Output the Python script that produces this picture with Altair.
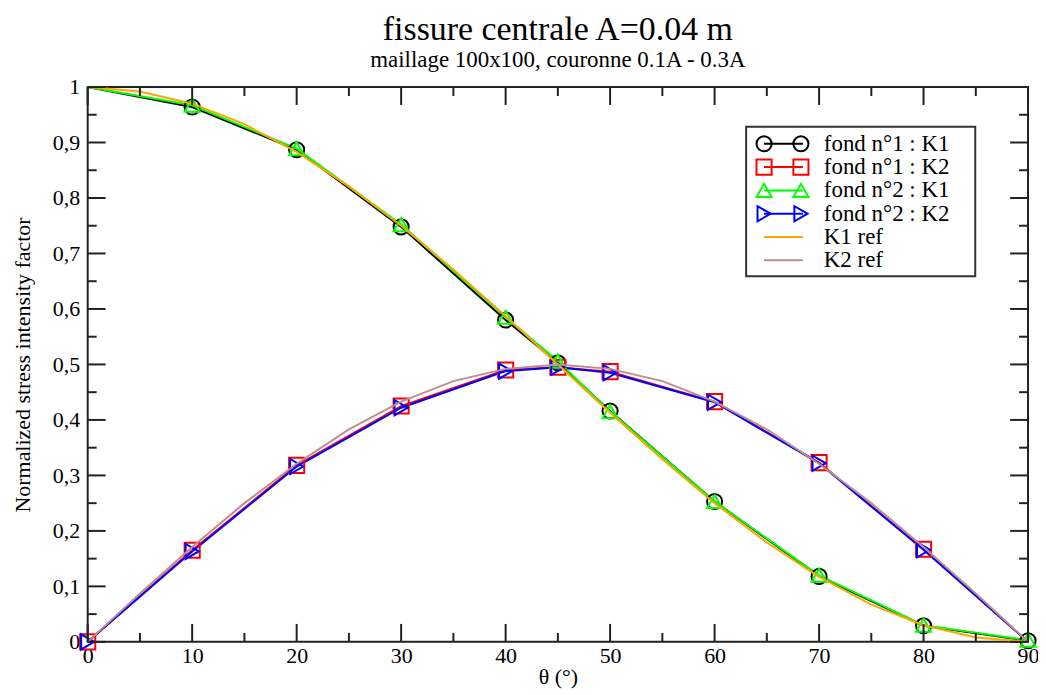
import altair as alt
import pandas as pd

# ---------------- data ----------------
theta_pts = [0, 10, 20, 30, 40, 45, 50, 60, 70, 80, 90]
k1_fond1 = [1.0, 0.964, 0.887, 0.748, 0.580, 0.503, 0.416, 0.253, 0.118, 0.029, 0.002]
k2_fond1 = [0.0, 0.165, 0.318, 0.425, 0.490, 0.495, 0.487, 0.433, 0.323, 0.167, 0.0]
k1_fond2 = [1.0, 0.967, 0.889, 0.752, 0.585, 0.506, 0.415, 0.253, 0.120, 0.030, 0.003]
k2_fond2 = [0.0, 0.163, 0.316, 0.422, 0.488, 0.495, 0.485, 0.432, 0.322, 0.166, 0.0]

theta_ref = [0, 5, 10, 15, 20, 25, 30, 35, 40, 45, 50, 55, 60, 65, 70, 75, 80, 85, 90]
k1_ref = [1.0, 0.992, 0.970, 0.933, 0.883, 0.821, 0.750, 0.671, 0.587, 0.500,
          0.413, 0.329, 0.250, 0.179, 0.117, 0.067, 0.030, 0.008, 0.0]
k2_ref = [0.0, 0.087, 0.171, 0.250, 0.321, 0.383, 0.433, 0.470, 0.492, 0.500,
          0.492, 0.470, 0.433, 0.383, 0.321, 0.250, 0.171, 0.087, 0.0]

series_names = ["fond n°1 : K1", "fond n°1 : K2", "fond n°2 : K1", "fond n°2 : K2", "K1 ref", "K2 ref"]
series_colors = ["#000000", "#ff0000", "#00ff00", "#0000ff", "#ffa500", "#bc8f8f"]
marker_series = series_names[:4]
marker_shapes = ["circle", "square", "triangle-up", "triangle-right"]

x_major = [0, 10, 20, 30, 40, 50, 60, 70, 80, 90]
x_minor = [5, 15, 25, 35, 45, 55, 65, 75, 85]
y_major = [0, 0.1, 0.2, 0.3, 0.4, 0.5, 0.6, 0.7, 0.8, 0.9, 1.0]
y_minor = [0.05, 0.15, 0.25, 0.35, 0.45, 0.55, 0.65, 0.75, 0.85, 0.95]

# ---------------- tables ----------------
rows = []
for name, vals in zip(series_names[:4], [k1_fond1, k2_fond1, k1_fond2, k2_fond2]):
    for t, v in zip(theta_pts, vals):
        rows.append({"theta": t, "value": v, "series": name})
meas = pd.DataFrame(rows)
# markers: K1 sets have no marker at 0, K2 sets none at 90
meas["mark"] = [not ((("K1" in s) and t == 0) or (("K2" in s) and t == 90))
                for s, t in zip(meas["series"], meas["theta"])]

rrows = []
for name, vals in zip(series_names[4:], [k1_ref, k2_ref]):
    for t, v in zip(theta_ref, vals):
        rrows.append({"theta": t, "value": v, "series": name})
ref = pd.DataFrame(rrows)

W, H = 944, 557
SERIF = "Liberation Serif"
FRAME = "#222222"

xs = alt.Scale(domain=[0, 90], nice=False, zero=False)
ys = alt.Scale(domain=[0, 1], nice=False, zero=False)
cs = alt.Scale(domain=series_names, range=series_colors)
ss = alt.Scale(domain=marker_series, range=marker_shapes)

common_axis = dict(ticks=False, domain=False, grid=False, labelFlush=False,
                   labelFont=SERIF, labelFontSize=22, labelColor="black",
                   titleFont=SERIF, titleFontSize=22, titleFontWeight="normal", titleColor="black")
x_axis = alt.Axis(values=x_major, format="d", labelPadding=4, titlePadding=0, **common_axis)
y_axis = alt.Axis(values=y_major, format=".1~f", labelExpr="replace(datum.label, '.', ',')",
                  labelPadding=8, titlePadding=18, **common_axis)
XT = "θ (°)"
YT = "Normalized stress intensity factor"

def X():
    return alt.X("theta:Q", scale=xs, axis=x_axis, title=XT)

def Y():
    return alt.Y("value:Q", scale=ys, axis=y_axis, title=YT)

lines = alt.Chart(meas).mark_line(strokeWidth=2).encode(
    x=X(), y=Y(),
    color=alt.Color("series:N", scale=cs, legend=None),
    detail="series:N",
)
points = alt.Chart(meas).transform_filter("datum.mark").mark_point(
    size=230, strokeWidth=2, filled=False, opacity=1
).encode(
    x=X(), y=Y(),
    color=alt.Color("series:N", scale=cs, legend=None),
    shape=alt.Shape("series:N", scale=ss, legend=None),
)
ref_lines = alt.Chart(ref).mark_line(strokeWidth=2).encode(
    x=X(), y=Y(),
    color=alt.Color("series:N", scale=cs, legend=None),
    detail="series:N",
)

# inward ticks
def xticks(vals, length):
    d = pd.DataFrame({"theta": vals})
    base = alt.Chart(d).mark_rule(color=FRAME, strokeWidth=2)
    bot = base.encode(x=X(), y=alt.value(H), y2=alt.value(H - length))
    top = base.encode(x=X(), y=alt.value(0), y2=alt.value(length))
    return [bot, top]

def yticks(vals, length):
    d = pd.DataFrame({"value": vals})
    base = alt.Chart(d).mark_rule(color=FRAME, strokeWidth=2)
    left = base.encode(y=Y(), x=alt.value(0), x2=alt.value(length))
    right = base.encode(y=Y(), x=alt.value(W), x2=alt.value(W - length))
    return [left, right]

tick_layers = xticks(x_major, 18) + xticks(x_minor, 9) + yticks(y_major, 18) + yticks(y_minor, 9)

# legend (drawn as a boxed key, entries stacked from top)
LX0, LX1, LY0, LY1 = 661, 891, 40, 190
ROW0, ROWSTEP = 57, 23.4
one = alt.Data(values=[{"a": 1}])
leg_layers = [
    alt.Chart(one).mark_rect(fill="white", stroke="#333333", strokeWidth=2)
    .encode(x=alt.value(LX0), x2=alt.value(LX1), y=alt.value(LY0), y2=alt.value(LY1))
]
for i, (name, col) in enumerate(zip(series_names, series_colors)):
    yy = ROW0 + i * ROWSTEP
    d = alt.Data(values=[{"series": name}])
    leg_layers.append(
        alt.Chart(d).mark_rule(strokeWidth=2, color=col)
        .encode(x=alt.value(679), x2=alt.value(718), y=alt.value(yy))
    )
    if name in marker_series:
        shp = marker_shapes[marker_series.index(name)]
        for px in [679, 716]:
            leg_layers.append(
                alt.Chart(d).mark_point(size=230, strokeWidth=2, filled=False, opacity=1,
                                        shape=shp, color=col)
                .encode(x=alt.value(px), y=alt.value(yy))
            )
    leg_layers.append(
        alt.Chart(d).mark_text(align="left", baseline="middle", font=SERIF, fontSize=23,
                               color="black")
        .encode(x=alt.value(739), y=alt.value(yy), text="series:N")
    )

chart = alt.layer(
    lines, points, ref_lines, *tick_layers, *leg_layers
).properties(
    width=W, height=H, background="white",
    title=alt.TitleParams(
        text="fissure centrale A=0.04 m",
        subtitle="maillage 100x100, couronne 0.1A - 0.3A",
        font=SERIF, fontSize=34, fontWeight="normal", color="black",
        subtitleFont=SERIF, subtitleFontSize=23, subtitleColor="black", subtitlePadding=2,
        anchor="middle", offset=4,
    ),
    autosize=alt.AutoSizeParams(type="none"),
    padding={"left": 80, "top": 78, "right": 10, "bottom": 48},
).configure_view(stroke=FRAME, strokeWidth=2)

chart.save("out.html", embed_options={"renderer": "svg", "actions": False})
